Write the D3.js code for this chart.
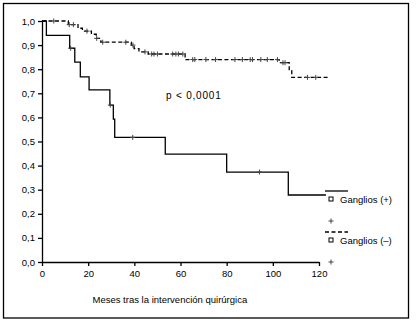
<!DOCTYPE html>
<html><head><meta charset="utf-8">
<script src="https://cdn.jsdelivr.net/npm/d3@7"></script>
<style>
html,body{margin:0;padding:0;background:#fff;}
svg text{font-family:"Liberation Sans",Arial,Helvetica,sans-serif;fill:#000;}
</style></head>
<body>
<svg id="c" width="416" height="325"></svg>
<script>
// ---- data ----
const yTicks = [0,0.1,0.2,0.3,0.4,0.5,0.6,0.7,0.8,0.9,1.0];
const xTicks = [0,20,40,60,80,100,120];

// Ganglios (+) : step times and survival
const posTimes = [0, 1.9, 12, 14.2, 16.6, 20.4, 29.4, 30.9, 31.5, 53.4, 80, 106.7];
const posSurv  = [1.0, 0.94, 0.887, 0.829, 0.768, 0.714, 0.651, 0.593, 0.517, 0.448, 0.373, 0.278];
const posEnd = 123;
const posCensor = [12.4, 29.6, 39.3, 94.2];

// Ganglios (-)
const negTimes = [0, 11.4, 15.6, 17.5, 21.4, 23.5, 25.5, 38.7, 39.9, 42, 46, 62, 102.8, 107.1, 108.2];
const negSurv  = [1.0, 0.985, 0.97, 0.958, 0.945, 0.928, 0.912, 0.9, 0.885, 0.872, 0.863, 0.84, 0.827, 0.794, 0.766];
const negEnd = 124;
const negCensor = [5.1, 11.8, 13.6, 19.5, 23.7, 26.3, 36.3, 39.4, 44.6, 47.5, 48.5, 50, 56.6, 58, 59.1, 61,
                   65.3, 66.2, 71, 75.2, 83.6, 86.8, 90.2, 91.2, 94.8, 97.6, 102, 104.4, 105.3, 115, 118.6];

const seriesLabels = ["Ganglios (+)", "Ganglios (\u2013)"];
const pText = "p < 0,0001";
const xTitle = "Meses tras la intervención quirúrgica";

// ---- drawing ----
const svg = d3.select("#c");
const x = d3.scaleLinear().domain([0,120]).range([42,319]);
const y = d3.scaleLinear().domain([0,1]).range([262,21]);
const loc = d3.formatLocale({decimal:",", thousands:".", grouping:[3], currency:["",""]});
const fmt = loc.format(".1f");

svg.append("rect").attr("x",3.5).attr("y",3.5).attr("width",405).attr("height",314.5)
  .attr("fill","none").attr("stroke","#000").attr("stroke-width",1.3);

const fs = "9.5px";
// y axis
const ya = svg.append("g").attr("transform",`translate(${x(0)},0)`)
  .call(d3.axisLeft(y).tickValues(yTicks).tickFormat(fmt).tickSize(4).tickSizeOuter(0).tickPadding(3));
const xa = svg.append("g").attr("transform",`translate(0,${y(0)})`)
  .call(d3.axisBottom(x).tickValues(xTicks).tickSize(4).tickSizeOuter(0).tickPadding(4));
[ya,xa].forEach(g=>{
  g.selectAll("path,line").attr("stroke","#000").attr("stroke-width",1.3);
  g.selectAll("text").style("font-size",fs).attr("fill","#000");
  g.attr("font-family",null);
});

function survAt(times, surv, t){ const i = d3.bisectRight(times, t) - 1; return surv[Math.max(0,i)]; }
const line = d3.line().x(d=>x(d[0])).y(d=>y(d[1])).curve(d3.curveStepAfter);

function drawCurve(times, surv, end, censor, dash){
  const pts = times.map((t,i)=>[t, surv[i]]);
  pts.push([end, surv[surv.length-1]]);
  svg.append("path").attr("d", line(pts)).attr("fill","none").attr("stroke","#000")
    .attr("stroke-width",1.3).attr("stroke-dasharray", dash || null);
  const g = svg.append("g");
  censor.forEach(t=>{
    const cx = x(t), cy = y(survAt(times, surv, t));
    g.append("path").attr("d",`M${cx-2.5},${cy}H${cx+2.5}M${cx},${cy-2.5}V${cy+2.5}`)
      .attr("stroke","#444").attr("stroke-width",1);
  });
}
drawCurve(posTimes, posSurv, posEnd, posCensor, null);
drawCurve(negTimes, negSurv, negEnd, negCensor, "4,2.5");

svg.append("text").attr("x",166).attr("y",99).style("font-size","10px")
  .style("letter-spacing","0.8px").text(pText);
svg.append("text").attr("x",92.5).attr("y",303).style("font-size",fs).text(xTitle);

// legend
function plus(cx, cy){
  svg.append("path").attr("d",`M${cx-2.5},${cy}H${cx+2.5}M${cx},${cy-2.5}V${cy+2.5}`)
    .attr("stroke","#444").attr("stroke-width",1);
}
const legY = [191, 232];
seriesLabels.forEach((lab,i)=>{
  const ly = legY[i];
  svg.append("line").attr("x1",325).attr("x2",348).attr("y1",ly).attr("y2",ly)
    .attr("stroke","#000").attr("stroke-width",1.3).attr("stroke-dasharray", i===1 ? "4,2.5" : null);
  svg.append("rect").attr("x",329).attr("y",ly+6).attr("width",4).attr("height",4)
    .attr("fill","#fff").attr("stroke","#000").attr("stroke-width",1);
  svg.append("text").attr("x",340).attr("y",ly+11.5).style("font-size",fs).text(lab);
  plus(331, ly+30);
});
</script>
</body></html>
